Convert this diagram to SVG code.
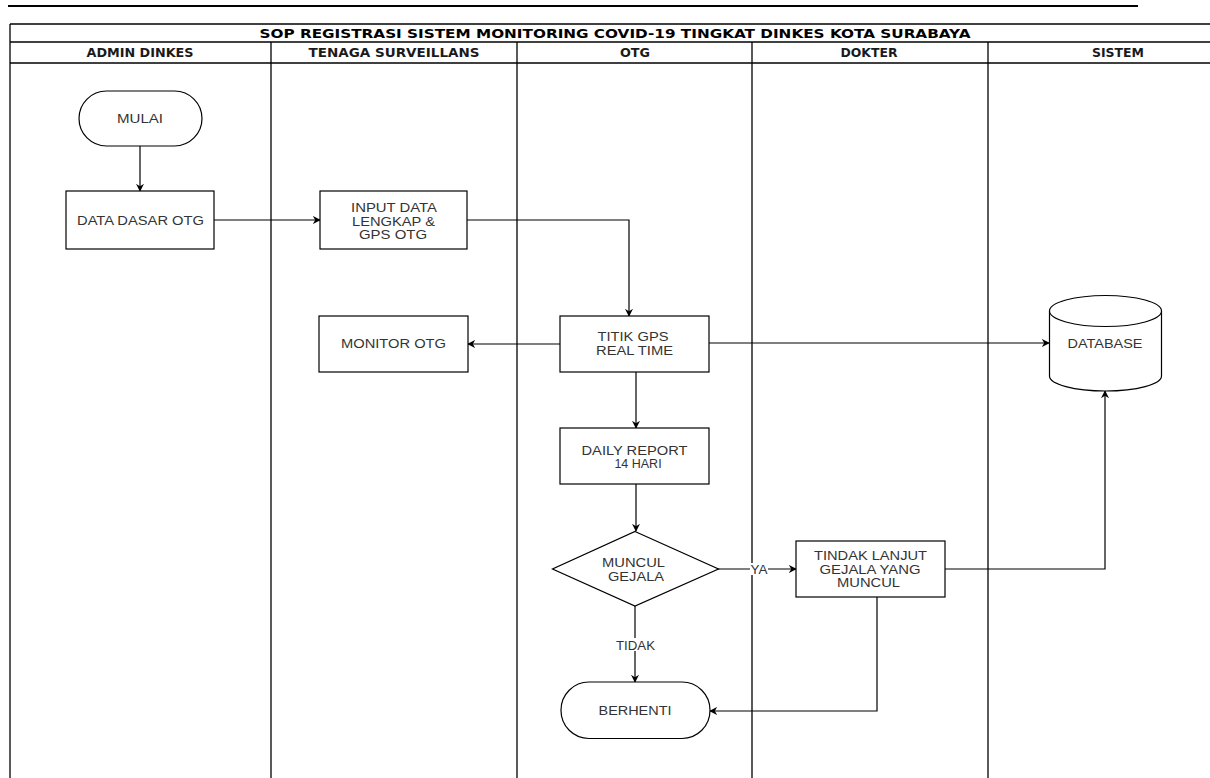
<svg xmlns="http://www.w3.org/2000/svg" width="1210" height="778" viewBox="0 0 1210 778">
<style>
.lane{fill:none;stroke:#000;stroke-width:1.3}
.node{fill:#fff;stroke:#000;stroke-width:1.2}
.t{font-family:"Liberation Sans",Arial,sans-serif;font-size:12.5px;fill:#333;text-anchor:middle}
.h{font-family:"DejaVu Sans",Verdana,sans-serif;font-size:11.5px;font-weight:bold;fill:#1a1a1a;text-anchor:middle}
.title{font-family:"DejaVu Sans",Verdana,sans-serif;font-size:12.5px;font-weight:bold;fill:#000;text-anchor:middle}
.c{fill:none;stroke:#000;stroke-width:1.2;marker-end:url(#arr)}
.lbl{font-family:"Liberation Sans",Arial,sans-serif;font-size:12px;fill:#333;text-anchor:middle}
</style>
<defs>
<marker id="arr" viewBox="0 0 10 10" refX="9" refY="5" markerWidth="8" markerHeight="8" markerUnits="userSpaceOnUse" orient="auto">
<path d="M0,0 L10,5 L0,10 L3,5 Z" fill="#000"/>
</marker>
</defs>
<rect width="1210" height="778" fill="#fff"/>
<g id="frame">
<line x1="8" y1="6" x2="1138" y2="6" stroke="#000" stroke-width="2"/>
<line x1="10" y1="24" x2="1210" y2="24" class="lane"/>
<line x1="10" y1="42" x2="1210" y2="42" class="lane"/>
<line x1="10" y1="63" x2="1210" y2="63" class="lane"/>
<line x1="10" y1="24" x2="10" y2="778" class="lane"/>
<line x1="271" y1="42" x2="271" y2="778" class="lane"/>
<line x1="517" y1="42" x2="517" y2="778" class="lane"/>
<line x1="752" y1="42" x2="752" y2="778" class="lane"/>
<line x1="988" y1="42" x2="988" y2="778" class="lane"/>
<text x="615" y="37.5" class="title" textLength="711" lengthAdjust="spacingAndGlyphs">SOP REGISTRASI SISTEM MONITORING COVID-19 TINGKAT DINKES KOTA SURABAYA</text>
<text x="140" y="57" class="h" textLength="107" lengthAdjust="spacingAndGlyphs">ADMIN DINKES</text>
<text x="394" y="57" class="h" textLength="171" lengthAdjust="spacingAndGlyphs">TENAGA SURVEILLANS</text>
<text x="635" y="57" class="h" textLength="30" lengthAdjust="spacingAndGlyphs">OTG</text>
<text x="869" y="57" class="h" textLength="57" lengthAdjust="spacingAndGlyphs">DOKTER</text>
<text x="1118" y="57" class="h" textLength="52" lengthAdjust="spacingAndGlyphs">SISTEM</text>
</g>
<g id="connectors">
<path class="c" d="M140,146 L140,191"/>
<path class="c" d="M214,220 L320,220"/>
<path class="c" d="M467,220 L629,220 L629,316"/>
<path class="c" d="M560,344 L468,344"/>
<path class="c" d="M709,343 L1049,343"/>
<path class="c" d="M636,372 L636,428"/>
<path class="c" d="M636,484 L636,531"/>
<path class="c" d="M718,569 L796,569"/>
<path class="c" d="M945,569 L1105,569 L1105,391"/>
<path class="c" d="M635,606 L635,682"/>
<path class="c" d="M877,597 L877,711 L710,711"/>
<rect x="750" y="563" width="18" height="12" fill="#fff"/>
<text x="759" y="574" class="lbl" textLength="17" lengthAdjust="spacingAndGlyphs">YA</text>
<rect x="615" y="638" width="42" height="13" fill="#fff"/>
<text x="635.5" y="650" class="lbl" textLength="39" lengthAdjust="spacingAndGlyphs">TIDAK</text>
</g>
<g id="mulai">
<rect x="79" y="91" width="123" height="55" rx="27.5" ry="27.5" class="node"/>
<text x="140" y="122.5" class="t" textLength="46" lengthAdjust="spacingAndGlyphs">MULAI</text>
</g>
<g id="data-dasar">
<rect x="66" y="191" width="148" height="58" class="node"/>
<text x="140.5" y="224.5" class="t" textLength="127" lengthAdjust="spacingAndGlyphs">DATA DASAR OTG</text>
</g>
<g id="input-data">
<rect x="320" y="191" width="147" height="58" class="node"/>
<text x="394" y="212" class="t" textLength="86" lengthAdjust="spacingAndGlyphs">INPUT DATA</text>
<text x="393.5" y="225.5" class="t" textLength="83" lengthAdjust="spacingAndGlyphs">LENGKAP &amp;</text>
<text x="393" y="239" class="t" textLength="68" lengthAdjust="spacingAndGlyphs">GPS OTG</text>
</g>
<g id="titik-gps">
<rect x="560" y="316" width="149" height="56" class="node"/>
<text x="633" y="341" class="t" textLength="71" lengthAdjust="spacingAndGlyphs">TITIK GPS</text>
<text x="634.5" y="354.5" class="t" textLength="77" lengthAdjust="spacingAndGlyphs">REAL TIME</text>
</g>
<g id="monitor-otg">
<rect x="319" y="316" width="149" height="56" class="node"/>
<text x="393.5" y="348" class="t" textLength="105" lengthAdjust="spacingAndGlyphs">MONITOR OTG</text>
</g>
<g id="database">
<path d="M1049.5,311 L1049.5,376 A56,15 0 0 0 1161.5,376 L1161.5,311" class="node"/>
<ellipse cx="1105.5" cy="311" rx="56" ry="15.5" class="node"/>
<text x="1105" y="348" class="t" textLength="75" lengthAdjust="spacingAndGlyphs">DATABASE</text>
</g>
<g id="daily-report">
<rect x="560" y="428" width="149" height="56" class="node"/>
<text x="634.5" y="454.5" class="t" textLength="106" lengthAdjust="spacingAndGlyphs">DAILY REPORT</text>
<text x="638" y="468" class="t">14 HARI</text>
</g>
<g id="muncul-gejala">
<polygon points="635,531.5 718.5,569 635,606 552.5,569" class="node"/>
<text x="633.5" y="567" class="t" textLength="63" lengthAdjust="spacingAndGlyphs">MUNCUL</text>
<text x="636" y="580.5" class="t" textLength="56" lengthAdjust="spacingAndGlyphs">GEJALA</text>
</g>
<g id="tindak-lanjut">
<rect x="796" y="541" width="149" height="56" class="node"/>
<text x="870.5" y="560" class="t" textLength="113" lengthAdjust="spacingAndGlyphs">TINDAK LANJUT</text>
<text x="870" y="573.5" class="t" textLength="101" lengthAdjust="spacingAndGlyphs">GEJALA YANG</text>
<text x="868.5" y="587" class="t" textLength="63" lengthAdjust="spacingAndGlyphs">MUNCUL</text>
</g>
<g id="berhenti">
<rect x="561" y="682" width="149" height="56.5" rx="28" ry="28" class="node"/>
<text x="635" y="715" class="t" textLength="73" lengthAdjust="spacingAndGlyphs">BERHENTI</text>
</g>
</svg>
